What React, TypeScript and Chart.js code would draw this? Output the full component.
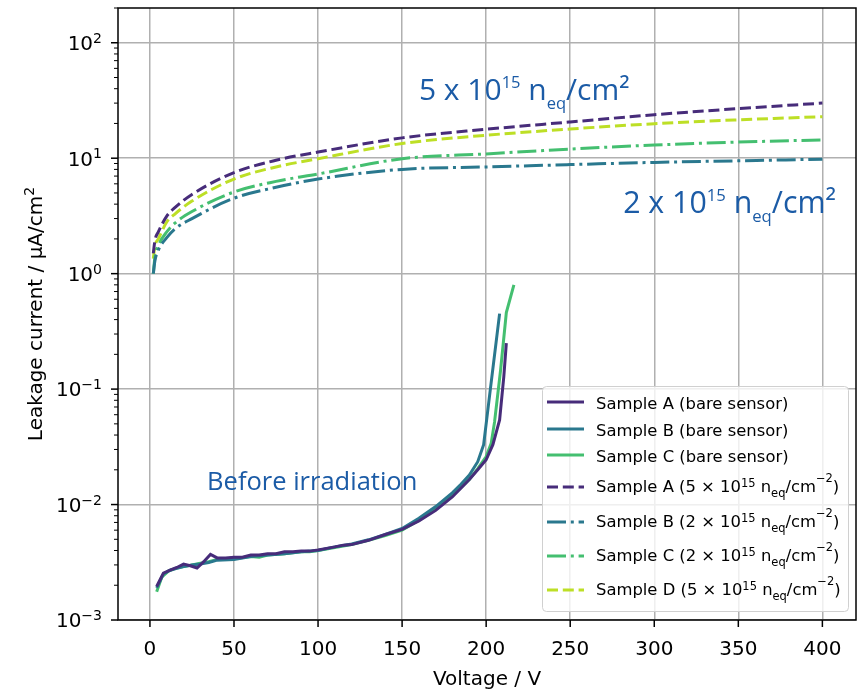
import React, { useEffect, useRef } from 'react';
import { Chart, registerables } from 'chart.js';

Chart.register(...registerables);

// ---------- data ----------
const xTicks = [0, 50, 100, 150, 200, 250, 300, 350, 400];
const yDecades = [-3, -2, -1, 0, 1, 2];
const ySupLabels = ['−3', '−2', '−1', '0', '1', '2'];

const bareA_V = [4, 8, 12, 16, 20, 24, 28, 32, 36, 40, 45, 50, 55, 60, 65, 70, 75, 80, 85, 90, 95, 100, 110, 115, 120, 130, 140, 150, 160, 170, 180, 190, 195, 200, 204, 208, 210.5, 212];
const bareA_I = [1.95e-3, 2.55e-3, 2.7e-3, 2.85e-3, 3.05e-3, 2.95e-3, 2.82e-3, 3.2e-3, 3.7e-3, 3.45e-3, 3.45e-3, 3.5e-3, 3.5e-3, 3.65e-3, 3.65e-3, 3.75e-3, 3.75e-3, 3.9e-3, 3.9e-3, 3.95e-3, 3.95e-3, 4.05e-3, 4.3e-3, 4.45e-3, 4.5e-3, 4.9e-3, 5.5e-3, 6.1e-3, 7.2e-3, 8.9e-3, 1.17e-2, 1.65e-2, 2.0e-2, 2.45e-2, 3.3e-2, 5.4e-2, 0.128, 0.25];

const bareB_V = [4, 8, 12, 16, 20, 25, 30, 35, 40, 50, 60, 70, 80, 90, 100, 110, 120, 130, 140, 150, 160, 170, 180, 185, 190, 195, 198.5, 202.5, 208];
const bareB_I = [1.9e-3, 2.5e-3, 2.7e-3, 2.8e-3, 2.9e-3, 3.0e-3, 3.05e-3, 3.15e-3, 3.3e-3, 3.35e-3, 3.55e-3, 3.65e-3, 3.75e-3, 3.9e-3, 4.0e-3, 4.3e-3, 4.55e-3, 4.95e-3, 5.5e-3, 6.2e-3, 7.6e-3, 9.6e-3, 1.27e-2, 1.5e-2, 1.8e-2, 2.35e-2, 3.3e-2, 0.1, 0.45];

const bareC_V = [4, 7, 11, 15, 20, 25, 30, 35, 40, 50, 60, 65, 70, 80, 90, 95, 100, 110, 120, 130, 140, 150, 160, 170, 180, 185, 190, 195, 200, 203, 205, 208.6, 212, 216.5];
const bareC_I = [1.76e-3, 2.35e-3, 2.65e-3, 2.8e-3, 2.9e-3, 3.0e-3, 3.1e-3, 3.2e-3, 3.35e-3, 3.4e-3, 3.55e-3, 3.5e-3, 3.65e-3, 3.75e-3, 3.9e-3, 3.9e-3, 4.0e-3, 4.25e-3, 4.5e-3, 4.9e-3, 5.4e-3, 6.0e-3, 7.3e-3, 9.1e-3, 1.2e-2, 1.4e-2, 1.65e-2, 2.05e-2, 2.6e-2, 3.4e-2, 5.2e-2, 0.147, 0.46, 0.8];

const irr_V = [2, 3, 5, 10, 15, 25, 50, 75, 100, 150, 200, 250, 300, 350, 400];
const irrA_I = [1.5, 1.95, 2.3, 3.15, 3.75, 4.85, 7.5, 9.6, 11.3, 15.0, 17.8, 20.6, 23.8, 26.9, 30.0];
const irrB_I = [1.0, 1.3, 1.6, 2.05, 2.45, 3.0, 4.5, 5.6, 6.6, 8.0, 8.4, 8.8, 9.2, 9.5, 9.8];
const irrC_I = [1.0, 1.4, 1.75, 2.3, 2.75, 3.45, 5.1, 6.3, 7.3, 9.9, 10.9, 12.0, 13.0, 13.8, 14.4];
const irrD_I = [1.35, 1.75, 2.0, 2.8, 3.3, 4.25, 6.6, 8.4, 9.9, 13.4, 15.8, 17.9, 19.9, 21.5, 22.9];

const xTitle = 'Voltage / V';
const yTitle = 'Leakage current / μA/cm';

type Run = { t: string; k?: 'sup' | 'sub'; dy?: number; sc?: number };

const legendLabels: Run[][] = [
  [{ t: 'Sample A (bare sensor)' }],
  [{ t: 'Sample B (bare sensor)' }],
  [{ t: 'Sample C (bare sensor)' }],
  [{ t: 'Sample A (5 × 10' }, { t: '15', k: 'sup' }, { t: ' n' }, { t: 'eq', k: 'sub' }, { t: '/cm' }, { t: '−2', k: 'sup', dy: 0.6 }, { t: ')' }],
  [{ t: 'Sample B (2 × 10' }, { t: '15', k: 'sup' }, { t: ' n' }, { t: 'eq', k: 'sub' }, { t: '/cm' }, { t: '−2', k: 'sup', dy: 0.6 }, { t: ')' }],
  [{ t: 'Sample C (2 × 10' }, { t: '15', k: 'sup' }, { t: ' n' }, { t: 'eq', k: 'sub' }, { t: '/cm' }, { t: '−2', k: 'sup', dy: 0.6 }, { t: ')' }],
  [{ t: 'Sample D (5 × 10' }, { t: '15', k: 'sup' }, { t: ' n' }, { t: 'eq', k: 'sub' }, { t: '/cm' }, { t: '−2', k: 'sup', dy: 0.6 }, { t: ')' }],
];

const annot5: Run[] = [{ t: '5 x 10' }, { t: '15', k: 'sup' }, { t: ' n' }, { t: 'eq', k: 'sub' }, { t: '/cm²' }];
const annot2: Run[] = [{ t: '2 x 10' }, { t: '15', k: 'sup' }, { t: ' n' }, { t: 'eq', k: 'sub' }, { t: '/cm²' }];
const annotBefore = 'Before irradiation';

// ---------- styles ----------
const C_A = '#472c7a';
const C_B = '#2a788e';
const C_C = '#44bf70';
const C_D = '#bddf26';
const BLUE = '#1b5ba6';
const DASH = [11, 4.8];
const DASHDOT = [19, 4.8, 3, 4.8];
const MPL = '"DejaVu Sans", sans-serif';
const ANN = '"Open Sans", "Noto Sans", sans-serif';

const pts = (xs: number[], ys: number[]) => xs.map((x, i) => ({ x, y: ys[i] }));

function drawRich(
  ctx: CanvasRenderingContext2D,
  runs: Run[],
  x: number,
  y: number,
  size: number,
  family: string,
  color: string,
  align: 'left' | 'right' | 'center',
  supScale = 0.7,
  supRaise = 0.38,
  subDrop = 0.3,
) {
  const parts = runs.map((r) => {
    const s = r.k ? size * (r.sc ?? supScale) : size;
    ctx.font = `${s}px ${family}`;
    return { ...r, s, w: ctx.measureText(r.t).width };
  });
  const total = parts.reduce((a, p) => a + p.w, 0);
  let cx = align === 'left' ? x : align === 'right' ? x - total : x - total / 2;
  ctx.textAlign = 'left';
  ctx.textBaseline = 'alphabetic';
  ctx.fillStyle = color;
  for (const p of parts) {
    ctx.font = `${p.s}px ${family}`;
    let dy = 0;
    if (p.k === 'sup') dy = -size * (p.dy ?? supRaise);
    if (p.k === 'sub') dy = size * (p.dy ?? subDrop);
    ctx.fillText(p.t, cx, y + dy);
    cx += p.w;
  }
  return total;
}

const legendStyles = [
  { c: C_A, d: [] as number[] },
  { c: C_B, d: [] as number[] },
  { c: C_C, d: [] as number[] },
  { c: C_A, d: DASH },
  { c: C_B, d: DASHDOT },
  { c: C_C, d: DASHDOT },
  { c: C_D, d: DASH },
];
const legendRowOffsets = [16, 43, 69, 101, 136, 170, 204];

const overlay = {
  id: 'overlay',
  afterDraw(chart: any) {
    const ctx: CanvasRenderingContext2D = chart.ctx;
    const { left, right, top, bottom } = chart.chartArea;
    const xs = chart.scales.x;
    const ys = chart.scales.y;
    ctx.save();

    // spines
    ctx.strokeStyle = '#000';
    ctx.lineWidth = 1.5;
    ctx.setLineDash([]);
    ctx.strokeRect(left, top, right - left, bottom - top);

    // x ticks & labels
    ctx.lineWidth = 1.5;
    for (const v of xTicks) {
      const px = xs.getPixelForValue(v);
      ctx.beginPath();
      ctx.moveTo(px, bottom);
      ctx.lineTo(px, bottom + 7);
      ctx.stroke();
      ctx.font = `20px ${MPL}`;
      ctx.fillStyle = '#000';
      ctx.textAlign = 'center';
      ctx.textBaseline = 'alphabetic';
      ctx.fillText(String(v), px, bottom + 35);
    }

    // y ticks
    yDecades.forEach((d, i) => {
      const py = ys.getPixelForValue(Math.pow(10, d));
      ctx.lineWidth = 1.5;
      ctx.beginPath();
      ctx.moveTo(left - 7, py);
      ctx.lineTo(left, py);
      ctx.stroke();
      drawRich(ctx, [{ t: '10' }, { t: ySupLabels[i], k: 'sup' }], left - 16, py + 7.3, 20, MPL, '#000', 'right', 0.7, 0.36);
      for (let k = 2; k <= 9; k++) {
        const v = k * Math.pow(10, d);
        if (v > ys.max) break;
        const pm = ys.getPixelForValue(v);
        ctx.lineWidth = 1;
        ctx.beginPath();
        ctx.moveTo(left - 4, pm);
        ctx.lineTo(left, pm);
        ctx.stroke();
      }
    });

    // axis titles
    ctx.font = `20px ${MPL}`;
    ctx.fillStyle = '#000';
    ctx.textAlign = 'center';
    ctx.textBaseline = 'alphabetic';
    ctx.fillText(xTitle, (left + right) / 2, bottom + 65);
    ctx.save();
    ctx.translate(41.5, (top + bottom) / 2);
    ctx.rotate(-Math.PI / 2);
    drawRich(ctx, [{ t: yTitle }, { t: '2', k: 'sup' }], 0, 0, 20, MPL, '#000', 'center', 0.7, 0.4);
    ctx.restore();

    // annotations
    drawRich(ctx, annot5, xs.getPixelForValue(160), ys.getPixelForValue(32), 30, ANN, BLUE, 'left', 0.55, 0.4, 0.3);
    drawRich(ctx, annot2, xs.getPixelForValue(281.5), ys.getPixelForValue(3.35), 30.3, ANN, BLUE, 'left', 0.55, 0.4, 0.3);
    ctx.font = `25.5px ${ANN}`;
    ctx.fillStyle = BLUE;
    ctx.textAlign = 'left';
    ctx.fillText(annotBefore, xs.getPixelForValue(34), ys.getPixelForValue(0.0134));

    // legend
    const lx = 542, ly = 386, lw = 306, lh = 225;
    ctx.beginPath();
    (ctx as any).roundRect(lx + 0.5, ly + 0.5, lw, lh, 4);
    ctx.fillStyle = 'rgba(255,255,255,0.8)';
    ctx.fill();
    ctx.strokeStyle = '#d0d0d0';
    ctx.lineWidth = 1;
    ctx.stroke();
    legendLabels.forEach((runs, i) => {
      const yy = ly + legendRowOffsets[i];
      const st = legendStyles[i];
      ctx.strokeStyle = st.c;
      ctx.lineWidth = 3;
      ctx.lineCap = 'butt';
      ctx.setLineDash(st.d);
      ctx.beginPath();
      ctx.moveTo(lx + 5, yy);
      ctx.lineTo(lx + 42, yy);
      ctx.stroke();
      ctx.setLineDash([]);
      drawRich(ctx, runs, lx + 54, yy + (runs.length > 1 ? 4.7 : 6.6), 16.4, MPL, '#000', 'left', 0.7, 0.3, 0.33);
    });

    ctx.restore();
  },
};

export default function App() {
  const ref = useRef<HTMLCanvasElement | null>(null);
  useEffect(() => {
    if (!ref.current) return;
    const base = { pointRadius: 0, borderWidth: 3, borderCapStyle: 'butt', fill: false };
    const chart = new Chart(ref.current, {
      type: 'line',
      data: {
        datasets: [
          { ...base, label: 'Sample A (bare sensor)', data: pts(bareA_V, bareA_I), borderColor: C_A, tension: 0 },
          { ...base, label: 'Sample B (bare sensor)', data: pts(bareB_V, bareB_I), borderColor: C_B, tension: 0 },
          { ...base, label: 'Sample C (bare sensor)', data: pts(bareC_V, bareC_I), borderColor: C_C, tension: 0 },
          { ...base, label: 'Sample A irr', data: pts(irr_V, irrA_I), borderColor: C_A, borderDash: DASH, cubicInterpolationMode: 'monotone' },
          { ...base, label: 'Sample B irr', data: pts(irr_V, irrB_I), borderColor: C_B, borderDash: DASHDOT, cubicInterpolationMode: 'monotone' },
          { ...base, label: 'Sample C irr', data: pts(irr_V, irrC_I), borderColor: C_C, borderDash: DASHDOT, cubicInterpolationMode: 'monotone' },
          { ...base, label: 'Sample D irr', data: pts(irr_V, irrD_I), borderColor: C_D, borderDash: DASH, cubicInterpolationMode: 'monotone' },
        ] as any,
      },
      options: {
        animation: false,
        responsive: false,
        maintainAspectRatio: false,
        layout: { padding: { top: 8, right: 11, left: 0, bottom: 0 } },
        scales: {
          x: {
            type: 'linear',
            min: -19,
            max: 420,
            afterBuildTicks: (s: any) => {
              s.ticks = xTicks.map((v) => ({ value: v }));
            },
            afterFit: (s: any) => {
              s.height = 69;
            },
            grid: { color: '#b0b0b0', lineWidth: 1.5, drawTicks: false },
            border: { display: false },
            ticks: { display: false },
          },
          y: {
            type: 'logarithmic',
            min: 1e-3,
            max: 200,
            afterBuildTicks: (s: any) => {
              s.ticks = yDecades.map((d) => ({ value: Math.pow(10, d) }));
            },
            afterFit: (s: any) => {
              s.width = 118;
            },
            grid: { color: '#b0b0b0', lineWidth: 1.5, drawTicks: false },
            border: { display: false },
            ticks: { display: false },
          },
        },
        plugins: { legend: { display: false }, tooltip: { enabled: false } },
      } as any,
      plugins: [overlay],
    });
    return () => chart.destroy();
  }, []);
  return (
    <div style={{ position: 'fixed', left: 0, top: 0, width: 867, height: 689, background: '#fff' }}>
      <canvas ref={ref} width={867} height={689} style={{ display: 'block', width: 867, height: 689 }} />
    </div>
  );
}
